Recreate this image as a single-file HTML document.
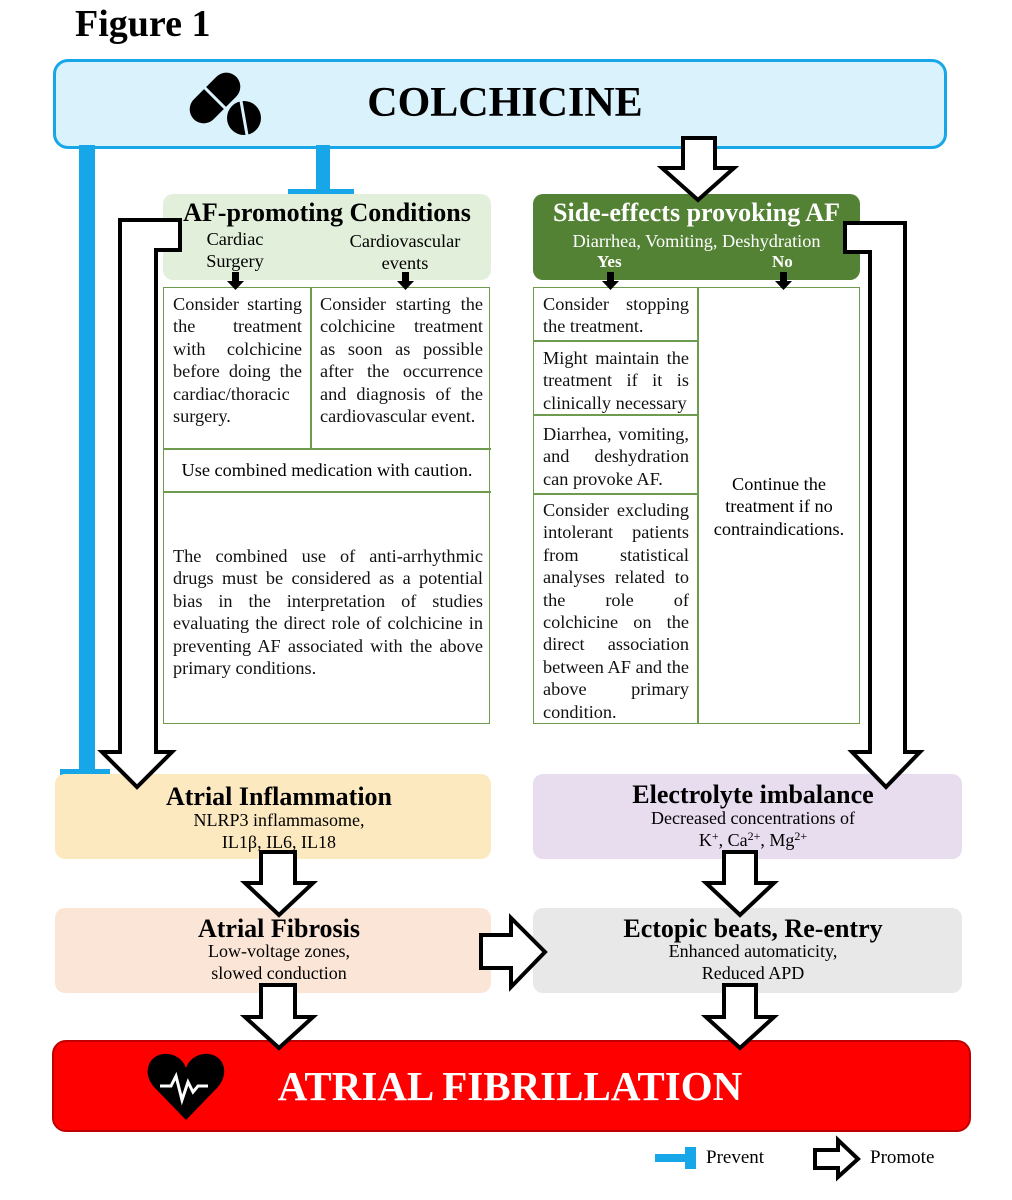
<!DOCTYPE html>
<html><head><meta charset="utf-8"><style>
body{margin:0;width:1012px;height:1200px;background:#fff;position:relative;font-family:"Liberation Serif",serif;overflow:hidden}
.a{position:absolute}
.c{text-align:center}
.t{font-size:18.3px;line-height:22.4px;color:#111;text-align:justify;text-align-last:left}
.cell{position:absolute;box-sizing:border-box;padding:4px 8px 4px 9px}
sup{font-size:12px;line-height:0;vertical-align:6px}
</style></head><body>
<div class="a" style="left:75px;top:2px;font-size:38px;font-weight:bold">Figure 1</div>

<div class="a" style="left:53px;top:59px;width:888px;height:84px;border:3px solid #17a7e8;border-radius:15px;background:#daf2fc"></div>
<div class="a c" style="left:300px;top:78px;width:410px;font-size:42px;font-weight:bold;line-height:50px">COLCHICINE</div>

<svg class="a" style="left:0;top:0" width="1012" height="1200">
 <g transform="translate(215,98) rotate(-45)"><rect x="-30" y="-14" width="60" height="28" rx="14" fill="#000"/><line x1="0" y1="-16" x2="0" y2="16" stroke="#daf2fc" stroke-width="3"/></g>
 <circle cx="244" cy="118" r="17" fill="#000"/><line x1="241" y1="101" x2="247" y2="135" stroke="#daf2fc" stroke-width="3"/>
 <rect x="79" y="145" width="16" height="630" fill="#17a7e8"/>
 <rect x="60" y="769" width="50" height="14" fill="#17a7e8"/>
 <rect x="316" y="145" width="14" height="46" fill="#17a7e8"/>
 <rect x="288" y="189" width="66" height="13" fill="#17a7e8"/>
</svg>

<div class="a" style="left:163px;top:194px;width:328px;height:86px;background:#e2efda;border-radius:10px"></div>
<div class="a c" style="left:155px;top:198px;width:344px;font-size:26px;font-weight:bold;line-height:30px">AF-promoting Conditions</div>
<div class="a c" style="left:175px;top:228px;width:120px;font-size:18.3px;line-height:22px">Cardiac<br>Surgery</div>
<div class="a c" style="left:335px;top:230px;width:140px;font-size:18.3px;line-height:22px">Cardiovascular<br>events</div>

<div class="a" style="left:533px;top:194px;width:327px;height:86px;background:#548235;border-radius:10px"></div>
<div class="a c" style="left:523px;top:198px;width:347px;font-size:26px;font-weight:bold;line-height:30px;color:#fff">Side-effects provoking AF</div>
<div class="a c" style="left:523px;top:230px;width:347px;font-size:18.3px;line-height:22px;color:#fff">Diarrhea, Vomiting, Deshydration</div>
<div class="a" style="left:597px;top:252px;font-size:17px;font-weight:bold;color:#fff">Yes</div>
<div class="a" style="left:772px;top:252px;font-size:17px;font-weight:bold;color:#fff">No</div>

<div class="a" style="left:163px;top:287px;width:325px;height:435px;border:1.5px solid #6f9b4e"></div>
<div class="a" style="left:310px;top:287px;width:1.5px;height:162px;background:#6f9b4e"></div>
<div class="a" style="left:163px;top:448px;width:328px;height:1.5px;background:#6f9b4e"></div>
<div class="a" style="left:163px;top:491px;width:328px;height:1.5px;background:#6f9b4e"></div>
<div class="cell t" style="left:164px;top:289px;width:146px">Consider starting the treatment with colchicine before doing the cardiac/thoracic surgery.</div>
<div class="cell t" style="left:311px;top:289px;width:180px">Consider starting the colchicine treatment as soon as possible after the occurrence and diagnosis of the cardiovascular event.</div>
<div class="a c" style="left:163px;top:459px;width:328px;font-size:18.3px;line-height:22px">Use combined medication with caution.</div>
<div class="cell t" style="left:164px;top:541px;width:327px">The combined use of anti-arrhythmic drugs must be considered as a potential bias in the interpretation of studies evaluating the direct role of colchicine in preventing AF associated with the above primary conditions.</div>

<div class="a" style="left:533px;top:287px;width:325px;height:435px;border:1.5px solid #6f9b4e"></div>
<div class="a" style="left:697px;top:287px;width:1.5px;height:437px;background:#6f9b4e"></div>
<div class="a" style="left:533px;top:340px;width:165px;height:1.5px;background:#6f9b4e"></div>
<div class="a" style="left:533px;top:414px;width:165px;height:1.5px;background:#6f9b4e"></div>
<div class="a" style="left:533px;top:493px;width:165px;height:1.5px;background:#6f9b4e"></div>
<div class="cell t" style="left:534px;top:289px;width:163px">Consider stopping the treatment.</div>
<div class="cell t" style="left:534px;top:343px;width:163px">Might maintain the treatment if it is clinically necessary</div>
<div class="cell t" style="left:534px;top:419px;width:163px">Diarrhea, vomiting, and deshydration can provoke AF.</div>
<div class="cell t" style="left:534px;top:495px;width:163px">Consider excluding intolerant patients from statistical analyses related to the role of colchicine on the direct association between AF and the above primary condition.</div>
<div class="a c" style="left:708px;top:473px;width:142px;font-size:18.3px;line-height:22.4px">Continue the treatment if no contraindications.</div>

<div class="a" style="left:55px;top:774px;width:436px;height:85px;background:#fde9c0;border-radius:10px"></div>
<div class="a c" style="left:55px;top:783px;width:448px;font-size:26px;font-weight:bold;line-height:28px">Atrial Inflammation</div>
<div class="a c" style="left:55px;top:809px;width:448px;font-size:18px;line-height:22px">NLRP3 inflammasome,<br>IL1β, IL6, IL18</div>

<div class="a" style="left:533px;top:774px;width:429px;height:85px;background:#e8dcef;border-radius:10px"></div>
<div class="a c" style="left:533px;top:781px;width:440px;font-size:26px;font-weight:bold;line-height:28px">Electrolyte imbalance</div>
<div class="a c" style="left:533px;top:807px;width:440px;font-size:18px;line-height:22px">Decreased concentrations of<br>K<sup>+</sup>, Ca<sup>2+</sup>, Mg<sup>2+</sup></div>

<div class="a" style="left:55px;top:908px;width:436px;height:85px;background:#fbe5d7;border-radius:10px"></div>
<div class="a c" style="left:55px;top:915px;width:448px;font-size:26px;font-weight:bold;line-height:28px">Atrial Fibrosis</div>
<div class="a c" style="left:55px;top:940px;width:448px;font-size:18px;line-height:22px">Low-voltage zones,<br>slowed conduction</div>

<div class="a" style="left:533px;top:908px;width:429px;height:85px;background:#e8e8e8;border-radius:10px"></div>
<div class="a c" style="left:533px;top:915px;width:440px;font-size:26px;font-weight:bold;line-height:28px">Ectopic beats, Re-entry</div>
<div class="a c" style="left:533px;top:940px;width:440px;font-size:18px;line-height:22px">Enhanced automaticity,<br>Reduced APD</div>

<div class="a" style="left:52px;top:1040px;width:915px;height:88px;background:#ff0000;border:2px solid #c00000;border-radius:14px"></div>
<div class="a c" style="left:250px;top:1062px;width:520px;font-size:41px;font-weight:bold;line-height:48px;color:#fff">ATRIAL FIBRILLATION</div>

<svg class="a" style="left:0;top:0" width="1012" height="1200">
 <g stroke="#000" stroke-width="4" fill="#fff" stroke-linejoin="miter">
  <polygon points="683,138 715,138 715,168 734,168 698,200 662,168 683,168"/>
  <polygon points="180,220 180,250 156,250 156,752 172,752 137,787 102,752 120,752 120,220"/>
  <polygon points="845,223 905,223 905,752 920,752 886,787 852,752 870,752 870,252 845,252"/>
  <polygon points="261,852 295,852 295,883 313,883 279,915 245,883 261,883"/>
  <polygon points="724,852 756,852 756,883 774,883 740,915 706,883 724,883"/>
  <polygon points="261,985 295,985 295,1017 313,1017 279,1048 245,1017 261,1017"/>
  <polygon points="724,985 756,985 756,1017 774,1017 740,1048 706,1017 724,1017"/>
  <polygon points="481,935 511,935 511,918 545,952 511,987 511,968 481,968"/>
  <polygon points="815,1150 838,1150 838,1140 858,1159 838,1177 838,1168 815,1168"/>
 </g>
 <g fill="#000">
  <polygon points="232,272 239,272 239,281 244,281 235.5,290 227,281 232,281"/>
  <polygon points="402,272 409,272 409,281 414,281 405.5,290 397,281 402,281"/>
  <polygon points="607,272 614,272 614,281 619,281 610.5,290 602,281 607,281"/>
  <polygon points="780,272 787,272 787,281 792,281 783.5,290 775,281 780,281"/>
 </g>
 <rect x="655" y="1154" width="30" height="8" fill="#17a7e8"/>
 <rect x="685" y="1147" width="11" height="22" fill="#17a7e8"/>
 <path d="M186,1120 L155,1088 C140,1072 150,1052 168,1054 C178,1055 184,1062 186,1068 C188,1062 194,1055 204,1054 C222,1052 232,1072 217,1088 Z" fill="#000"/>
 <polyline points="160,1086 171,1086 176,1076 182,1100 188,1082 193,1092 198,1086 208,1086" fill="none" stroke="#fff" stroke-width="3"/>
</svg>
<div class="a" style="left:706px;top:1147px;font-size:19px">Prevent</div>
<div class="a" style="left:870px;top:1147px;font-size:19px">Promote</div>
</body></html>
